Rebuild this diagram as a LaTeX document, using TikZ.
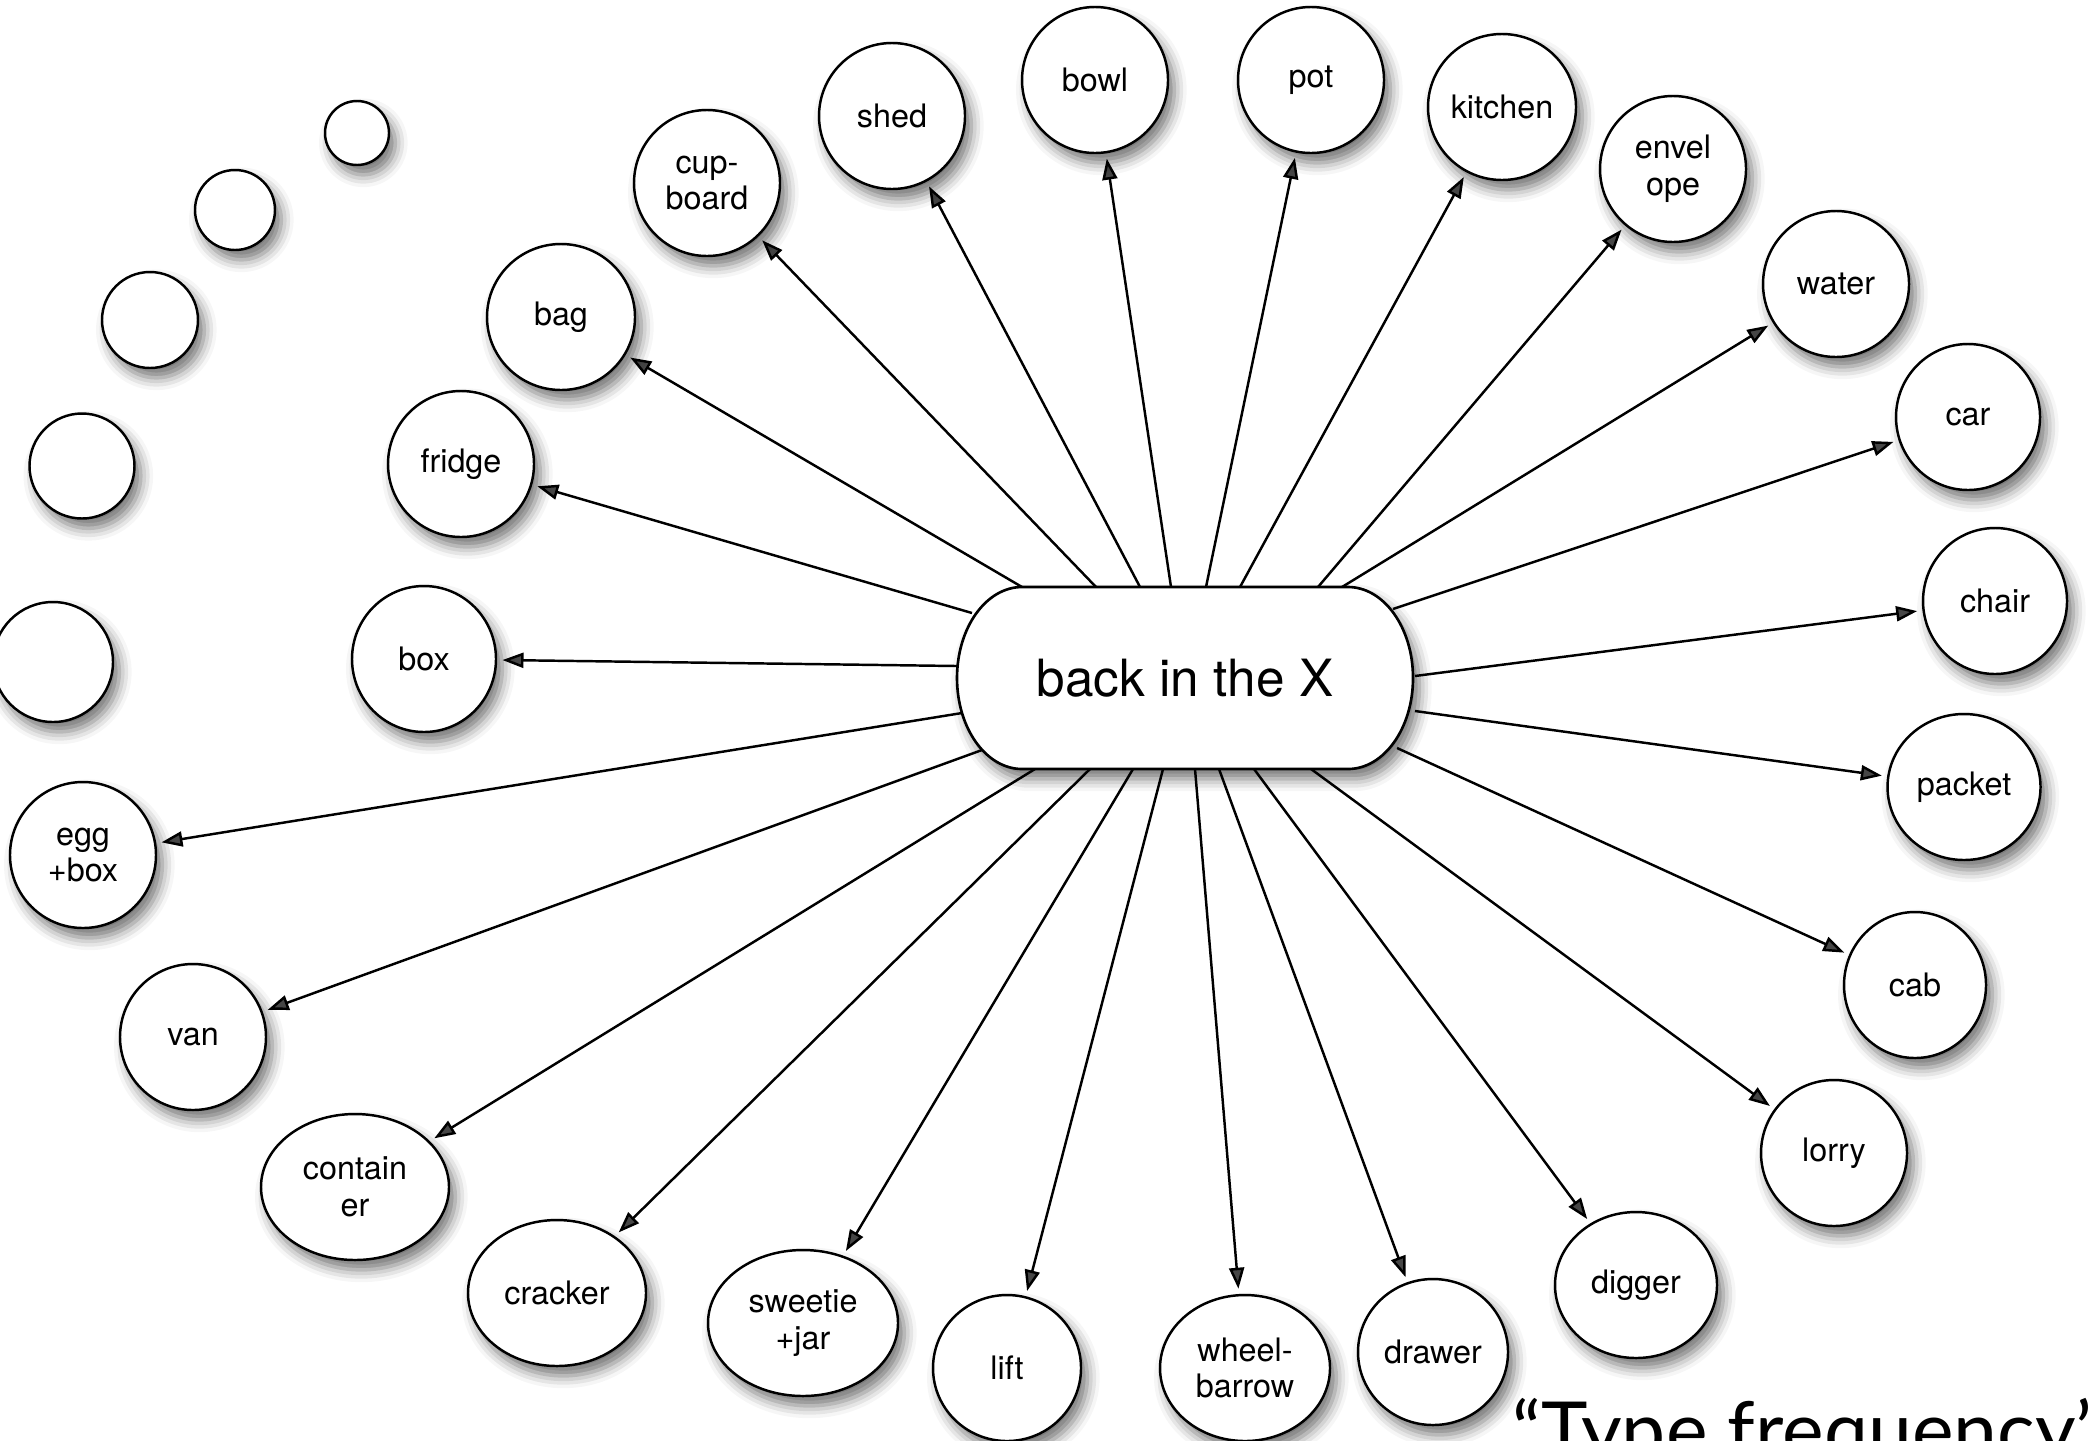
\documentclass[tikz,border=0pt]{standalone}
\usepackage{fontspec}
\setmainfont{TeX Gyre Heros}
\newfontfamily\notefont{Lato}
\usetikzlibrary{arrows.meta, shapes.geometric, backgrounds, shadows.blur}

\begin{document}
\begin{tikzpicture}[
    softshadow/.style={blur shadow={shadow xshift=1.8pt, shadow yshift=-2.8pt,
        shadow blur radius=3.5pt, shadow opacity=55}},
    bubble/.style={ellipse, draw, line width=0.7pt, fill=white, inner sep=0pt, softshadow},
    word/.style={bubble, minimum height=1.46cm, align=center,
        font=\fontsize{9.2}{10.4}\selectfont},
    hub/.style={rectangle, inner sep=0pt, outer sep=0pt, minimum width=4.56cm,
        minimum height=1.82cm, font=\fontsize{14.6}{17}\selectfont},
    hubline/.style={insert path={([xshift=0.65cm]c.north west) -- ([xshift=-0.65cm]c.north east)
        arc[start angle=90, end angle=-90, x radius=0.65cm, y radius=0.91cm]
        -- ([xshift=0.65cm]c.south west)
        arc[start angle=270, end angle=90, x radius=0.65cm, y radius=0.91cm] -- cycle}},
    link/.style={line width=0.7pt, -{Triangle[length=2.1mm, width=1.5mm]}, shorten >=1.5pt},
]
\useasboundingbox (0,0) rectangle (20.91,-14.40);
\clip (0,0) rectangle (20.91,-14.40);

% ================= NODO CENTRAL =================
\node[hub] (c) at (11.85,-6.78) {back in the X};

% ================= PALABRAS =================
\foreach \n/\x/\y/\w/\t in {
    shed/8.92/-1.16/1.46/shed, bowl/10.95/-0.80/1.46/bowl, pot/13.11/-0.80/1.46/pot,
    kitchen/15.02/-1.07/1.48/kitchen, envelope/16.73/-1.69/1.46/{envel\\ope},
    water/18.36/-2.84/1.46/water, car/19.68/-4.17/1.44/car, chair/19.95/-6.01/1.44/chair,
    packet/19.64/-7.87/1.53/packet, cab/19.15/-9.85/1.42/cab, lorry/18.34/-11.53/1.46/lorry,
    digger/16.36/-12.85/1.62/digger, drawer/14.33/-13.52/1.50/drawer,
    wheelbarrow/12.45/-13.68/1.70/{wheel-\\barrow}, lift/10.07/-13.68/1.48/lift,
    sweetie/8.03/-13.23/1.90/{sweetie\\+jar}, cracker/5.57/-12.93/1.78/cracker,
    container/3.55/-11.87/1.88/{contain\\er}, van/1.93/-10.37/1.46/van,
    egg/0.83/-8.55/1.46/{egg\\+box}, box/4.24/-6.59/1.44/box, fridge/4.61/-4.64/1.46/fridge,
    bag/5.61/-3.17/1.48/bag, cupboard/7.07/-1.83/1.46/{cup-\\board}}
    \node[word, minimum width=\w cm] (\n) at (\x,\y) {\t};

% circulos vacios
\foreach \x/\y/\d [count=\i] in {3.57/-1.33/0.64, 2.35/-2.10/0.80, 1.50/-3.20/0.96,
    0.82/-4.66/1.05, 0.53/-6.62/1.20}
    \node[bubble, minimum size=\d cm] (empty\i) at (\x,\y) {};

% ================= FLECHAS =================
\begin{scope}[on background layer]
    \path[fill=white, softshadow, hubline];
    \foreach \n/\dx/\dy in {
        fridge/-2.13/0.65, box/-2.28/0.12, egg/-2.23/-0.35, van/-2.03/-0.72,
        container/-1.50/-0.91, cracker/-0.95/-0.91, sweetie/-0.52/-0.91, lift/-0.22/-0.91,
        wheelbarrow/0.10/-0.91, drawer/0.34/-0.91, digger/0.69/-0.91, lorry/1.26/-0.91,
        cab/2.12/-0.70, packet/2.30/-0.33, chair/2.30/0.02, car/2.08/0.69,
        water/1.57/0.91, envelope/1.33/0.91, kitchen/0.55/0.91, pot/0.21/0.91,
        bowl/-0.14/0.91, shed/-0.45/0.91, cupboard/-0.89/0.91, bag/-1.63/0.91}
        \draw[link] ([shift={(\dx,\dy)}]c.center) -- (\n);
    \path[fill=white, draw, line width=0.75pt, hubline];
\end{scope}

% nota
\node[font=\notefont\fontsize{22.4}{26}\selectfont, anchor=base west, inner sep=0pt]
    (note) at (15.12,-14.58) {“Type frequency’};

\end{tikzpicture}
\end{document}
